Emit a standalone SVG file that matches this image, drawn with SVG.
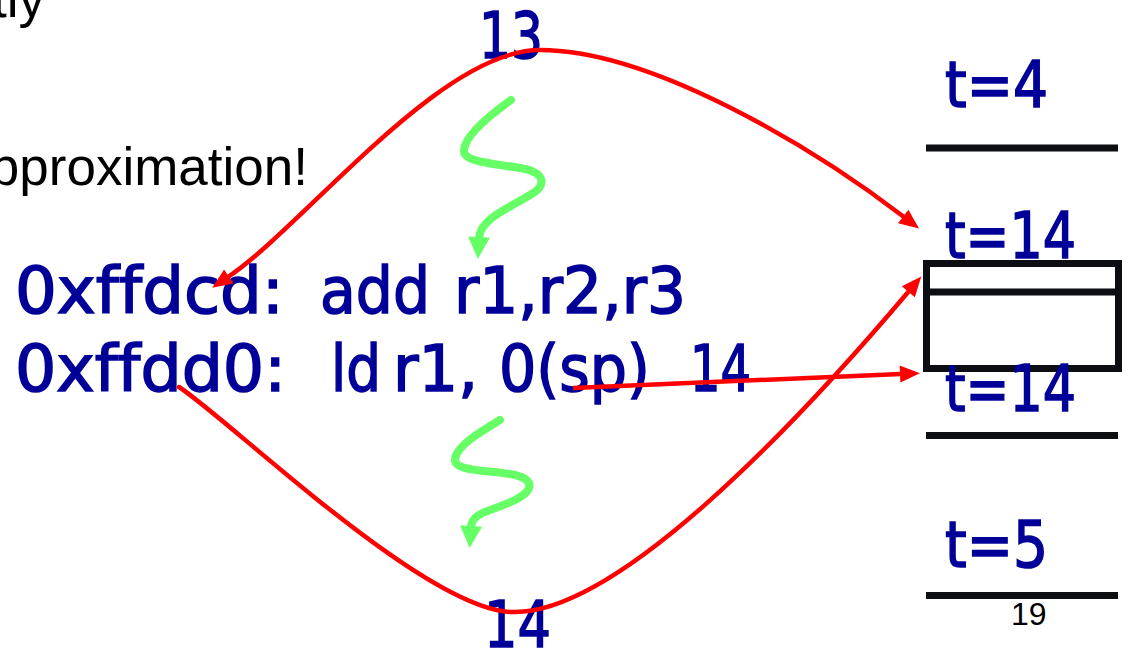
<svg xmlns="http://www.w3.org/2000/svg" width="1129" height="651" viewBox="0 0 1129 651">
<style>
.blue{font-family:"Comic Sans MS","DejaVu Sans",sans-serif;font-size:64px;fill:#000099;stroke:#000099;stroke-width:1.6;font-variant-ligatures:none;font-feature-settings:"liga" 0}
.blk{font-family:"Liberation Sans",Arial,sans-serif;fill:#000}
.red{fill:none;stroke:#ff0000;stroke-width:4.5}
.grn{fill:none;stroke:#66ff66;stroke-width:8;stroke-linecap:round}
.bar{stroke:#0d0d14;stroke-width:7;fill:none}
</style>
<defs>
<marker id="ra" markerUnits="userSpaceOnUse" markerWidth="40" markerHeight="40" viewBox="-20 -20 40 40" refX="0" refY="0" orient="auto-start-reverse" overflow="visible">
<path d="M-1,-8.5 L19,0 L-1,8.5 z" fill="#ff0000"/>
</marker>
<marker id="ga" markerUnits="userSpaceOnUse" markerWidth="50" markerHeight="50" viewBox="-25 -25 50 50" refX="0" refY="0" orient="auto" overflow="visible">
<path d="M-1,-11 L21,0 L-1,11 z" fill="#66ff66"/>
</marker>
</defs>

<g id="slide-text">
<text class="blk" x="45" y="17" font-size="53" text-anchor="end">tly</text>
<text class="blk" x="308" y="185" font-size="53" text-anchor="end">pproximation!</text>
<text class="blk" x="1011" y="625" font-size="32">19</text>
</g>

<g id="code">
<text class="blue" y="313"><tspan x="15" textLength="269" lengthAdjust="spacingAndGlyphs">0xffdcd:</tspan> <tspan x="320" textLength="110" lengthAdjust="spacingAndGlyphs">add</tspan> <tspan x="454" textLength="232" lengthAdjust="spacingAndGlyphs">r1,r2,r3</tspan></text>
<text class="blue" y="391"><tspan x="15" textLength="271" lengthAdjust="spacingAndGlyphs">0xffdd0:</tspan> <tspan x="331" textLength="50" lengthAdjust="spacingAndGlyphs">ld</tspan> <tspan x="393" textLength="85" lengthAdjust="spacingAndGlyphs">r1,</tspan> <tspan x="499" textLength="151" lengthAdjust="spacingAndGlyphs">0(sp)</tspan> <tspan x="690" textLength="61" lengthAdjust="spacingAndGlyphs">14</tspan></text>
</g>

<g id="label-13"><text class="blue" x="479" y="58" textLength="64" lengthAdjust="spacingAndGlyphs">13</text></g>
<g id="label-14"><text class="blue" x="484" y="647" textLength="67" lengthAdjust="spacingAndGlyphs">14</text></g>

<g id="timeline">
<text class="blue" x="945" y="107" textLength="103" lengthAdjust="spacingAndGlyphs">t=4</text>
<line class="bar" x1="926" y1="148" x2="1118" y2="148"/>
<text class="blue" x="945" y="258" textLength="131" lengthAdjust="spacingAndGlyphs">t=14</text>
<rect class="bar" x="926.5" y="263.5" width="192" height="105"/>
<line class="bar" x1="926" y1="292" x2="1119" y2="292"/>
<text class="blue" x="945" y="411" textLength="131" lengthAdjust="spacingAndGlyphs">t=14</text>
<line class="bar" x1="926" y1="435.5" x2="1118" y2="435.5"/>
<text class="blue" x="945" y="567" textLength="103" lengthAdjust="spacingAndGlyphs">t=5</text>
<line class="bar" x1="926" y1="595.5" x2="1118" y2="595.5"/>
</g>

<g id="connectors">
<path class="red" d="M228,277 C305,225 440,50 540,50 C650,50 810,145 904,217" marker-start="url(#ra)" marker-end="url(#ra)"/>
<path class="red" stroke-linecap="round" d="M179,387 C230,420 430,615 515,612 C620,612 800,420 909,291" marker-end="url(#ra)"/>
<path class="red" d="M573,388 L901,374" marker-end="url(#ra)"/>
<path class="grn" d="M511,100 C490,115 465,135 464,150 C463,162 490,163 520,168 C545,172 548,185 530,195 C505,210 480,220 479,238" marker-end="url(#ga)"/>
<path class="grn" d="M500,420 C480,432 455,447 455,460 C455,470 480,470 510,474 C535,478 535,490 515,500 C490,512 472,512 471,527" marker-end="url(#ga)"/>
</g>
</svg>
